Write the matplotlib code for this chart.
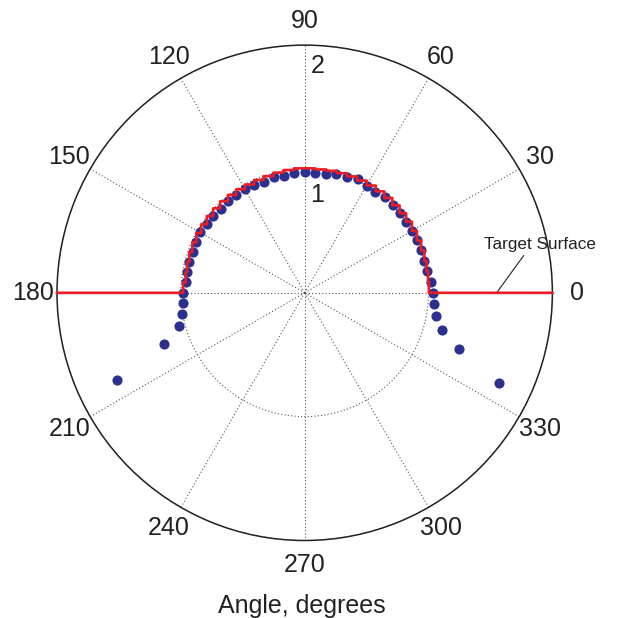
import numpy as np
import matplotlib
matplotlib.use("Agg")
import matplotlib.pyplot as plt

plt.rcParams["font.family"] = ["Liberation Sans", "DejaVu Sans"]

# Measured profile: polar angle (deg) and normalised radius
meas_angle_deg = [-25, -20, -15, -10, -5, 0, 5, 10, 15, 20, 25, 30, 35, 40, 45,
                  50, 55, 60, 65, 70, 75, 80, 85, 90, 95, 100, 105, 110, 115,
                  120, 125, 130, 135, 140, 145, 150, 155, 160, 165, 170, 175,
                  180, 185, 190, 195, 200, 205]
meas_radius = [1.73, 1.33, 1.15, 1.08, 1.05, 1.04, 1.02, 1.00, 1.00, 1.00, 1.00,
               1.00, 0.995, 1.00, 1.005, 1.005, 0.995, 1.00, 1.01, 0.995, 0.99,
               0.975, 0.972, 0.975, 0.968, 0.960, 0.965, 0.955, 0.964, 0.968,
               0.965, 0.964, 0.958, 0.964, 0.962, 0.974, 0.964, 0.963, 0.965,
               0.961, 0.964, 0.980, 0.983, 1.007, 1.047, 1.207, 1.671]

# Target surface (pixelated arc) sampled every 5 degrees over the upper half
target_angle_deg = list(range(0, 181, 5))
target_radius = [1.003, 1.0, 1.0, 1.0, 1.0, 1.0, 1.0, 1.0, 1.0, 1.0, 1.0, 1.0,
                 1.0, 1.0, 1.0, 1.0, 1.0, 1.0, 1.005, 0.995, 0.985, 0.975, 0.97,
                 0.965, 0.965, 0.965, 0.965, 0.965, 0.965, 0.965, 0.965, 0.965,
                 0.965, 0.965, 0.965, 0.965, 0.982]
target_outer = 2.0

theta_ticks_deg = [0, 30, 60, 90, 120, 150, 180, 210, 240, 270, 300, 330]
theta_tick_labels = ["0", "30", "60", "90", "120", "150", "180", "210", "240",
                     "270", "300", "330"]
r_ticks = [1, 2]
r_tick_labels = ["1", "2"]

DOT_COLOR = "#2B2F8E"
LINE_COLOR = "#EC1C24"
GRID_COLOR = "#555555"

fig = plt.figure(figsize=(6.27, 6.18), dpi=100)
ax = fig.add_axes([0.0909, 0.1254, 0.7901, 0.8016], projection="polar")

# --- build the stepped target surface in Cartesian space -------------------
ta = np.deg2rad(target_angle_deg)
tr = np.asarray(target_radius)
tx, ty = tr * np.cos(ta), tr * np.sin(ta)

vx = [target_outer, tx[0]]
vy = [0.0, 0.0]
for i in range(len(tx) - 1):
    x0, y0, x1, y1 = tx[i], ty[i], tx[i + 1], ty[i + 1]
    cx = x0 if abs(x0) >= abs(x1) else x1
    cy = max(y0, y1)
    vx += [cx, x1]
    vy += [cy, max(y1, 0.0)]
vx.append(-target_outer)
vy.append(0.0)

px, py = [], []
for i in range(len(vx) - 1):
    px.extend(np.linspace(vx[i], vx[i + 1], 40))
    py.extend(np.linspace(vy[i], vy[i + 1], 40))
px = np.asarray(px)
py = np.abs(np.asarray(py))
surf_theta = np.arctan2(py, px)
surf_r = np.hypot(px, py)

# --- data --------------------------------------------------------------------
ax.plot(np.deg2rad(meas_angle_deg), meas_radius, linestyle="none", marker="o",
        markersize=6.3, markerfacecolor=DOT_COLOR, markeredgecolor=DOT_COLOR,
        zorder=3, clip_on=False)
ax.plot(surf_theta, surf_r, color=LINE_COLOR, lw=1.9, zorder=4, clip_on=False)

# --- axes styling -------------------------------------------------------------
ax.set_ylim(0, 2)
ax.set_rticks(r_ticks)
ax.set_yticklabels([])
ax.set_thetagrids(theta_ticks_deg, theta_tick_labels, fontsize=18)
ax.tick_params(axis="x", pad=10.5, length=0, colors="#222222")
ax.tick_params(axis="y", length=0)
ax.grid(True, linestyle=(0, (1, 2)), color=GRID_COLOR, lw=0.8)
ax.spines["polar"].set_color("#222222")
ax.spines["polar"].set_linewidth(1.1)

offsets = {1: (5, -14), 2: (6, -9)}
for r, lab in zip(r_ticks, r_tick_labels):
    ax.annotate(lab, xy=(np.pi / 2, r), xytext=offsets[r],
                textcoords="offset pixels", ha="left", va="top",
                fontsize=18, color="#222222")

ax.annotate("Target Surface", xy=(0.0, 1.55),
            xytext=(np.deg2rad(15.2), 1.50), textcoords="data",
            ha="left", va="center", fontsize=12.3, color="#222222",
            arrowprops=dict(arrowstyle="-", color="#222222", lw=0.8,
                            shrinkA=1, shrinkB=0, relpos=(0.38, 0.0)))

ax.set_xlabel("Angle, degrees", fontsize=18, color="#222222")
ax.xaxis.set_label_coords(0.4935, -0.108)

fig.savefig("out.png", dpi=100)
